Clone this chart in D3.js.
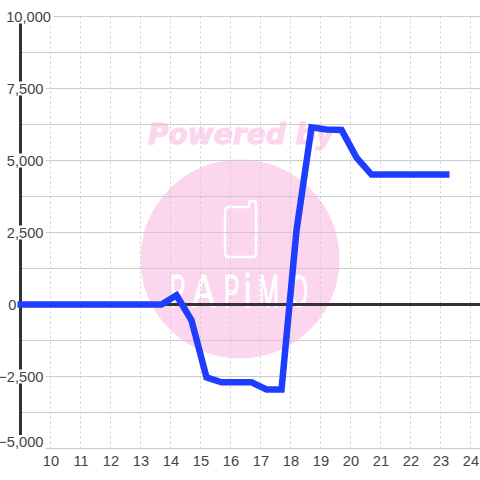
<!DOCTYPE html>
<html>
<head>
<meta charset="utf-8">
<script src="https://cdn.jsdelivr.net/npm/d3@7"></script>
<style>
html, body { margin: 0; padding: 0; background: #fff; }
svg { display: block; }
text { font-family: "Liberation Sans", sans-serif; }
</style>
</head>
<body>
<svg id="chart" width="480" height="480"></svg>
<script>
const hours = [8.9, 13.7, 14.2, 14.7, 15.2, 15.7, 16.2, 16.7, 17.2, 17.7, 18.2, 18.7, 19.2, 19.7, 20.2, 20.7, 21.2, 21.7, 22.2, 22.7, 23.3];
const values = [0, 0, 320, -550, -2530, -2700, -2700, -2700, -2950, -2950, 2570, 6150, 6080, 6060, 5100, 4510, 4510, 4510, 4510, 4510, 4510];
const xTicks = [10, 11, 12, 13, 14, 15, 16, 17, 18, 19, 20, 21, 22, 23, 24];
const yTicks = [-5000, -2500, 0, 2500, 5000, 7500, 10000];
const yMinorTicks = [-3750, -1250, 1250, 3750, 6250, 8750];
const logoLetters = ["P", "A", "P", "i", "M", "O"];
const logoLeft = [170, 192, 224, 244, 258, 290];
const logoStretch = [0.5, 0.75, 0.5, 0.7, 0.55, 0.5];

const svg = d3.select("#chart");
const x = d3.scaleLinear().domain([9, 24.333]).range([20.5, 480.5]);
const y = d3.scaleLinear().domain([-5000, 10000]).range([448.5, 16.5]);
const fmt = d3.format(",");

// watermark sits under the grid
const mark = svg.append("g");
mark.append("circle").attr("cx", 240).attr("cy", 259).attr("r", 99.5).attr("fill", "#fcd5ee");
mark.append("text").attr("x", 148).attr("y", 144).attr("font-size", 28).attr("font-weight", "bold")
    .attr("font-style", "italic").attr("fill", "#fcd5ee").attr("stroke", "#fcd5ee").attr("stroke-width", 1)
    .style("font-family", "'DejaVu Sans'")
    .attr("textLength", 186).attr("lengthAdjust", "spacingAndGlyphs").text("Powered by");
mark.append("path")
    .attr("d", "M229 207H249V203Q249 201 252 201H254Q256 201 256 204V253Q256 257 252 257H229Q225 257 225 253V211Q225 207 229 207Z")
    .attr("fill", "none").attr("stroke", "#fff").attr("stroke-width", 2.5);
mark.selectAll("text.logo").data(logoLetters).join("text").attr("class", "logo")
    .attr("transform", (d, i) => `translate(${logoLeft[i]},307) scale(${logoStretch[i]},1)`)
    .attr("font-size", 46).attr("fill", "#fff").attr("stroke", "#fff").attr("stroke-width", 1).text(d => d);

// grid
svg.append("g").selectAll("line").data(xTicks).join("line")
    .attr("x1", d => Math.round(x(d) - 0.5) + 0.5).attr("x2", d => Math.round(x(d) - 0.5) + 0.5)
    .attr("y1", y(10000)).attr("y2", y(-5000))
    .attr("stroke", "#ccc").attr("stroke-dasharray", "2,3");
svg.append("g").selectAll("line").data(yTicks.concat(yMinorTicks)).join("line")
    .attr("x1", 20).attr("x2", 480)
    .attr("y1", d => Math.round(y(d) - 0.5) + 0.5).attr("y2", d => Math.round(y(d) - 0.5) + 0.5)
    .attr("stroke", "#ccc");

// axis lines
svg.append("line").attr("x1", 20.5).attr("x2", 20.5).attr("y1", y(10000)).attr("y2", y(-5000))
    .attr("stroke", "#333").attr("stroke-width", 3);
svg.append("line").attr("x1", 20).attr("x2", 480).attr("y1", y(0)).attr("y2", y(0))
    .attr("stroke", "#333").attr("stroke-width", 3);

// y labels have a white box that cuts the axis line, 0 sits left of it
const yLabels = svg.append("g").selectAll("g").data(yTicks).join("g")
    .attr("transform", d => {
        const dx = d === 10000 ? 51 : d === 0 ? 16.5 : 43.5;
        const dy = d === -5000 ? y(d) - 6.5 : y(d);
        return `translate(${dx},${dy})`;
    });
yLabels.append("text").attr("text-anchor", "end").attr("dy", "0.35em")
    .attr("font-size", 14.67).attr("fill", "#444").text(d => fmt(d));
yLabels.insert("rect", "text").each(function() {
    const b = this.parentNode.querySelector("text").getBBox();
    d3.select(this).attr("x", b.x - 1).attr("y", -7).attr("width", b.width + 3).attr("height", 14)
        .attr("fill", "#fff");
});

// x labels
svg.append("g").selectAll("text").data(xTicks).join("text")
    .attr("x", d => x(d) + 0.5).attr("y", 466).attr("text-anchor", "middle")
    .attr("font-size", 14.67).attr("fill", "#444").text(d => d);

const line = d3.line().x((d, i) => x(hours[i])).y(d => y(d));
svg.append("path").datum(values).attr("d", line).attr("fill", "none")
    .attr("stroke", "#1f3dff").attr("stroke-width", 6.5).attr("stroke-linejoin", "miter");
</script>
</body>
</html>
